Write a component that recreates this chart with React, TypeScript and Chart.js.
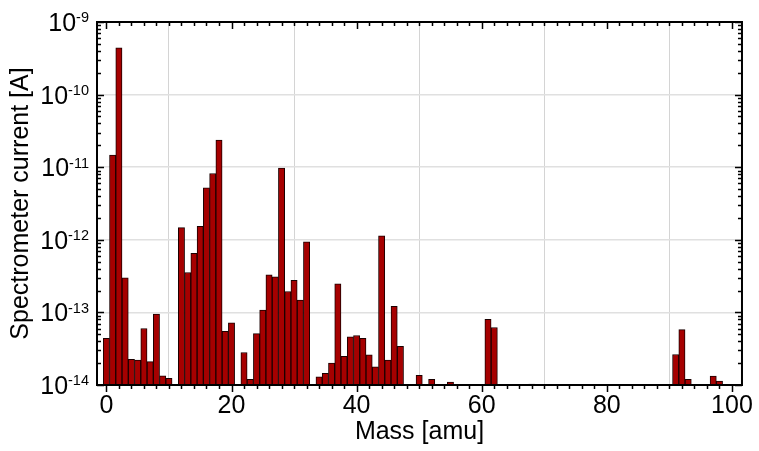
import React, { useEffect, useRef } from 'react';
import { Chart, registerables } from 'chart.js';

Chart.register(...registerables);

// Mass numbers (amu) that show a bar
const masses = [
  0, 1, 2, 3, 4, 5, 6, 7, 8, 9, 10,
  12, 13, 14, 15, 16, 17, 18, 19, 20,
  22, 23, 24, 25, 26, 27, 28, 29, 30, 31, 32,
  34, 35, 36, 37, 38, 39, 40, 41, 42, 43, 44, 45, 46, 47,
  50, 52, 55, 61, 62, 68, 91, 92, 93, 97, 98,
];

// Spectrometer current [A] for each mass
const currents = [
  4.4e-14, 1.47e-11, 4.4e-10, 3.0e-13, 2.26e-14, 2.2e-14, 6.0e-14, 2.1e-14, 9.5e-14, 1.34e-14, 1.24e-14,
  1.47e-12, 3.54e-13, 6.5e-13, 1.53e-12, 5.2e-12, 8.2e-12, 2.36e-11, 5.5e-14, 7.2e-14,
  2.8e-14, 1.2e-14, 5.1e-14, 1.08e-13, 3.3e-13, 3.1e-13, 9.7e-12, 1.94e-13, 2.77e-13, 1.48e-13, 9.4e-13,
  1.3e-14, 1.45e-14, 2.0e-14, 2.48e-13, 2.49e-14, 4.6e-14, 4.8e-14, 4.4e-14, 2.6e-14, 1.78e-14, 1.13e-12, 2.2e-14, 1.21e-13, 3.4e-14,
  1.36e-14, 1.2e-14, 1.1e-14, 8.0e-14, 6.2e-14, 1.03e-14, 2.63e-14, 5.8e-14, 1.2e-14, 1.33e-14, 1.13e-14,
];

const xMin = -1.5;
const xMax = 101.6;
const xMajorStep = 20;
const xMinorStep = 2;
// y tick labels: 10^exponent for each decade
const yDecades = [-14, -13, -12, -11, -10, -9];

const xTitle = 'Mass [amu]';
const yTitle = 'Spectrometer current [A]';

const FONT = "'Liberation Sans', Arial, sans-serif";
const BASE_SIZE = 25;
const SUP_SIZE = 14.5;

const isDecade = (v: number) => {
  const l = Math.log10(v);
  return Math.abs(l - Math.round(l)) < 1e-6;
};

const framePlugin = {
  id: 'frameTicks',
  afterDatasetsDraw(chart: any) {
    const { ctx, chartArea: a, scales } = chart;
    const xs = scales.x;
    const ys = scales.y;
    ctx.save();
    ctx.strokeStyle = '#000';
    ctx.lineWidth = 1.5;
    ctx.beginPath();
    const start = Math.ceil(xMin / xMinorStep) * xMinorStep;
    for (let v = start; v <= xMax + 1e-9; v += xMinorStep) {
      const px = Math.round(xs.getPixelForValue(v)) + 0.5;
      const major = Math.abs(v % xMajorStep) < 1e-9;
      const len = major ? 7 : 4;
      ctx.moveTo(px, a.top);
      ctx.lineTo(px, a.top + len);
      ctx.moveTo(px, a.bottom);
      ctx.lineTo(px, a.bottom + len);
    }
    for (let i = 0; i < yDecades.length; i++) {
      const e = yDecades[i];
      for (let m = 1; m <= 9; m++) {
        if (i === yDecades.length - 1 && m > 1) break;
        const py = Math.round(ys.getPixelForValue(m * Math.pow(10, e))) + 0.5;
        const len = m === 1 ? 7 : 4;
        ctx.moveTo(a.left, py);
        ctx.lineTo(a.left + len, py);
        ctx.moveTo(a.right, py);
        ctx.lineTo(a.right - len, py);
      }
    }
    ctx.stroke();
    ctx.lineWidth = 2;
    ctx.strokeRect(a.left, a.top, a.right - a.left, a.bottom - a.top);

    // y tick labels with superscript exponents
    ctx.fillStyle = '#000';
    ctx.textBaseline = 'alphabetic';
    ctx.textAlign = 'left';
    const rightEdge = a.left - 8;
    const cap = 0.716;
    for (const e of yDecades) {
      const py = ys.getPixelForValue(Math.pow(10, e));
      const expText = String(e);
      ctx.font = `${SUP_SIZE}px ${FONT}`;
      const wSup = ctx.measureText(expText).width;
      ctx.font = `${BASE_SIZE}px ${FONT}`;
      const wBase = ctx.measureText('10').width;
      const baseLine = py + (cap * BASE_SIZE) / 2;
      const top = py - (cap * BASE_SIZE) / 2;
      ctx.fillText('10', rightEdge - wSup - wBase, baseLine);
      ctx.font = `${SUP_SIZE}px ${FONT}`;
      ctx.fillText(expText, rightEdge - wSup, top + cap * SUP_SIZE - 1);
    }
    ctx.restore();
  },
};

export default function App() {
  const ref = useRef<HTMLCanvasElement | null>(null);

  useEffect(() => {
    if (!ref.current) return;
    const chart = new Chart(ref.current, {
      type: 'bar',
      data: {
        datasets: [
          {
            data: masses.map((m, i) => ({ x: m, y: currents[i] })),
            backgroundColor: '#A60000',
            borderColor: '#1a0000',
            borderWidth: 1,
            barPercentage: 1,
            categoryPercentage: 1,
          },
        ],
      },
      options: {
        responsive: false,
        animation: false,
        devicePixelRatio: 1,
        layout: { padding: { left: 0, right: 11, top: 22, bottom: 0 } },
        plugins: {
          legend: { display: false },
          tooltip: { enabled: false },
        },
        scales: {
          x: {
            type: 'linear',
            min: xMin,
            max: xMax,
            offset: false,
            afterFit: (s: any) => { s.height = 66; },
            ticks: {
              stepSize: xMajorStep,
              includeBounds: false,
              autoSkip: false,
              maxRotation: 0,
              padding: 6,
              color: '#000',
              font: { family: FONT, size: BASE_SIZE },
            },
            grid: { color: '#d4d4d4', lineWidth: 1, drawTicks: false },
            border: { display: false },
            title: {
              display: true,
              text: xTitle,
              color: '#000',
              font: { family: FONT, size: 25 },
              padding: { top: 0, bottom: 4 },
            },
          },
          y: {
            type: 'logarithmic',
            min: 1e-14,
            max: 1e-9,
            afterFit: (s: any) => { s.width = 97; },
            ticks: {
              autoSkip: false,
              padding: 9,
              color: '#000',
              font: { family: FONT, size: 12 },
              callback: () => '',
            },
            grid: {
              drawTicks: false,
              lineWidth: 1.5,
              color: (c: any) => (c.tick && isDecade(c.tick.value) ? '#e0e0e0' : 'rgba(0,0,0,0)'),
            },
            border: { display: false },
            title: {
              display: true,
              text: yTitle,
              color: '#000',
              font: { family: FONT, size: 25 },
              padding: { top: 6, bottom: 0 },
            },
          },
        },
      },
      plugins: [framePlugin],
    } as any);
    return () => chart.destroy();
  }, []);

  return (
    <div style={{ position: 'fixed', left: 0, top: 0, width: 759, height: 451, background: '#fff' }}>
      <canvas ref={ref} width={759} height={451} style={{ display: 'block' }} />
    </div>
  );
}
